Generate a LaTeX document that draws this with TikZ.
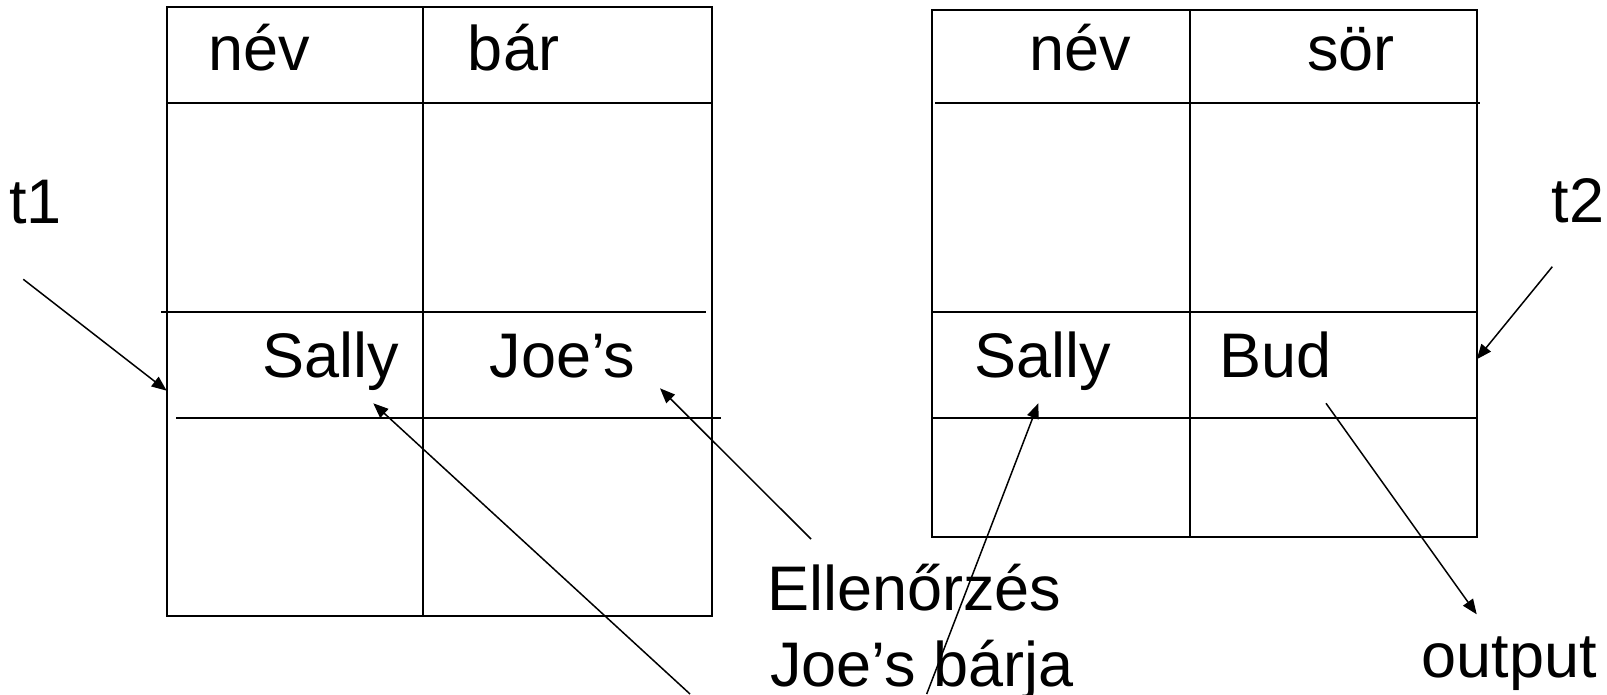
\documentclass[tikz,border=0pt]{standalone}
\usepackage{fontspec}
\setmainfont{Liberation Sans}
\usetikzlibrary{arrows.meta}
\begin{document}
\begin{tikzpicture}[x=1pt,y=-1pt,
  rule/.style={line width=2pt},
  lbl/.style={inner sep=0pt, font=\fontsize{63}{76}\selectfont, anchor=base},
  ptr/.style={line width=1.5pt, -{Triangle[length=15pt,width=12pt]}}]
\useasboundingbox (0,0) rectangle (1607,694);

% relation t1 (név, bár)
\draw[rule] (167.3,7.3) rectangle (711.7,615.7);
\draw[rule] (423.3,7.3) -- (423.3,615.7);
\draw[rule] (167.3,103.3) -- (711.7,103.3);
\draw[rule] (161,312.3) -- (705.7,312.3);
\draw[rule] (176,418.3) -- (721,418.3);

\node[lbl] (anev)  at (259.3,70)  {név};
\node[lbl] (abar)  at (513.5,70)  {bár};
\node[lbl] (asally) at (330.5,377) {Sally};
\node[lbl] (ajoe)  at (562.5,377) {Joe’s};

% relation t2 (név, sör)
\draw[rule] (932.3,10) rectangle (1476.5,537.3);
\draw[rule] (1190,10) -- (1190,537.3);
\draw[rule] (935,103.3) -- (1480,103.3);
\draw[rule] (932.3,312.3) -- (1476.5,312.3);
\draw[rule] (932.3,417.8) -- (1476.5,417.8);

\node[lbl] (bnev)  at (1080,70)   {név};
\node[lbl] (bsor)  at (1350.8,70) {sör};
\node[lbl] (bsally) at (1042.5,377) {Sally};
\node[lbl] (bbud)  at (1275.8,377) {Bud};

% labels
\node[lbl] (t1) at (35.5,223) {t1};
\node[lbl] (t2) at (1578,222) {t2};
\node[lbl] (out) at (1509.2,677) {output};
\node[lbl, anchor=base west] (chk1) at (767,610) {Ellenőrzés};
\node[lbl, anchor=base west] (chk2) at (770,686) {Joe’s bárja};

% pointer ends
\coordinate (t1s) at (23.3,279.3);
\coordinate (t1e) at (166.7,390.7);
\coordinate (t2s) at (1552.3,266.7);
\coordinate (t2e) at (1476.7,359.3);
\coordinate (buds) at (1326,403.3);
\coordinate (bude) at (1476.7,614.3);
\coordinate (joes) at (811,539);
\coordinate (joee) at (660,388.3);
\coordinate (sls) at (690,694);
\coordinate (sle) at (373.3,403.3);
\coordinate (srs) at (926.7,694);
\coordinate (sre) at (1038.3,403.3);

\draw[ptr] (t1s) -- (t1e);
\draw[ptr] (t2s) -- (t2e);
\draw[ptr] (buds) -- (bude);
\draw[ptr] (joes) -- (joee);
\draw[ptr] (sls) -- (sle);
\draw[ptr] (srs) -- (sre);
\end{tikzpicture}
\end{document}
